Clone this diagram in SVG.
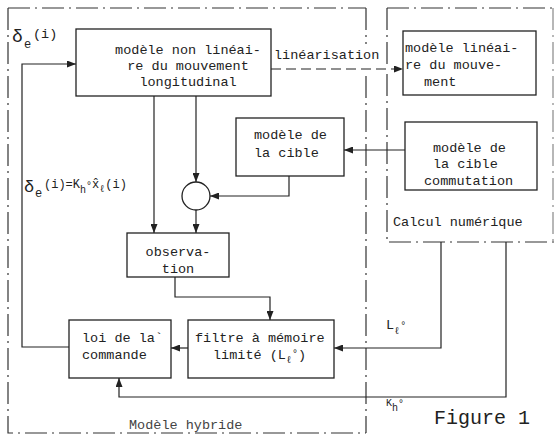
<svg xmlns="http://www.w3.org/2000/svg" width="556" height="436" viewBox="0 0 556 436">
<defs>
<marker id="ah" viewBox="0 0 10 10" refX="10" refY="5" markerWidth="9" markerHeight="7" markerUnits="userSpaceOnUse" orient="auto" preserveAspectRatio="none"><path d="M0,0 L10,5 L0,10 z" fill="#222"/></marker>
</defs>
<style>
.t{font-family:"Liberation Mono","DejaVu Sans Mono",monospace;font-size:13.5px;fill:#222}
.s{font-size:10px}
.box{fill:#fff;stroke:#222;stroke-width:1.3}
.ln{fill:none;stroke:#222;stroke-width:1.2}
.dl{fill:none;stroke:#222;stroke-width:1.2;stroke-dasharray:10 5}
.bd{fill:none;stroke:#333;stroke-width:1.2;stroke-dasharray:22 5 2 5}
</style>
<rect width="556" height="436" fill="#fff"/>

<g id="boundaries">
<path class="bd" d="M8,8 H366 M8,8 V433 H366 M366,8 V44 M366,76 V433"/>
<path class="bd" d="M387,8 H556 M387,8 V64 M387,74 V242 H556"/>
<path class="bd" style="stroke:#888" d="M553,8 V242"/>
</g>

<g id="connectors">
<path class="ln" d="M69,347 H22 V64 H76" marker-end="url(#ah)"/>
<path class="ln" d="M154,96 V233" marker-end="url(#ah)"/>
<path class="ln" d="M196,96 V182" marker-end="url(#ah)"/>
<path class="ln" d="M196,210 V233" marker-end="url(#ah)"/>
<path class="ln" d="M289,176 V196 H210" marker-end="url(#ah)"/>
<path class="ln" d="M405,150 H344" marker-end="url(#ah)"/>
<path class="dl" d="M271,69 H403" marker-end="url(#ah)"/>
<path class="ln" d="M175,277 V297 H270 V320" marker-end="url(#ah)"/>
<path class="ln" d="M188,348 H171" marker-end="url(#ah)"/>
<path class="ln" d="M441,242 V348 H334" marker-end="url(#ah)"/>
<path class="ln" d="M506,242 V397 H119 V378" marker-end="url(#ah)"/>
</g>

<g id="n-nonlineaire">
<rect class="box" x="76" y="29" width="195" height="67"/>
<text class="t" text-anchor="middle" x="188" y="54">modèle non linéai-</text>
<text class="t" text-anchor="middle" x="188" y="70">re du mouvement</text>
<text class="t" text-anchor="middle" x="188" y="86">longitudinal</text>
</g>

<g id="n-lineaire">
<rect class="box" x="403" y="31" width="133" height="64"/>
<text class="t" x="405" y="52">modèle linéai-</text>
<text class="t" x="405" y="69">re du mouve-</text>
<text class="t" x="424" y="86">ment</text>
</g>

<g id="n-cible">
<rect class="box" x="236" y="118" width="108" height="58"/>
<text class="t" x="254" y="139">modèle de</text>
<text class="t" x="254" y="157">la cible</text>
</g>

<g id="n-commutation">
<rect class="box" x="405" y="122" width="132" height="68"/>
<text class="t" x="433" y="152">modèle de</text>
<text class="t" x="433" y="168">la cible</text>
<text class="t" x="424" y="185">commutation</text>
</g>

<g id="n-somme">
<circle class="box" cx="196" cy="196" r="14"/>
</g>

<g id="n-observation">
<rect class="box" x="127" y="233" width="102" height="44"/>
<text class="t" text-anchor="middle" x="178" y="256">observa-</text>
<text class="t" text-anchor="middle" x="178" y="273">tion</text>
</g>

<g id="n-loi">
<rect class="box" x="69" y="320" width="102" height="58"/>
<text class="t" x="82" y="342">loi de la`</text>
<text class="t" x="82" y="359">commande</text>
</g>

<g id="n-filtre">
<rect class="box" x="188" y="320" width="146" height="58"/>
<text class="t" x="195" y="342">filtre à mémoire</text>
<text class="t" x="213" y="359">limité (L<tspan class="s" dy="4">ℓ</tspan><tspan class="s" dy="-6">°</tspan><tspan dy="2">)</tspan></text>
</g>

<g id="labels">
<text class="t" x="12" y="42" style="font-size:18px">δ</text>
<text class="t s" x="24" y="48" style="font-size:12px">e</text>
<text class="t" x="33" y="38">(i)</text>

<text class="t" x="24" y="192" style="font-size:17px">δ</text>
<text class="t" x="35" y="197" style="font-size:12px">e</text>
<text class="t" x="44" y="188" style="font-size:12px">(i)=K<tspan dy="5" style="font-size:10px">h</tspan><tspan dy="-4" style="font-size:10px">°</tspan><tspan dy="-1">x̂</tspan><tspan dy="4" style="font-size:10px">ℓ</tspan><tspan dy="-4">(i)</tspan></text>

<text class="t" x="274" y="59">linéarisation</text>
<text class="t" x="393" y="226">Calcul numérique</text>

<text class="t" x="386" y="329">L<tspan style="font-size:10px" dy="5">ℓ</tspan><tspan style="font-size:10px" dy="-5">°</tspan></text>
<text class="t" x="386" y="406" style="font-size:10px">K<tspan dy="5">h</tspan><tspan dy="-4">°</tspan></text>

<text class="t" x="434" y="424" style="font-size:20px">Figure 1</text>
<text class="t" x="129" y="429" style="font-size:13.5px;fill:#444">Modèle hybride</text>
</g>
</svg>
